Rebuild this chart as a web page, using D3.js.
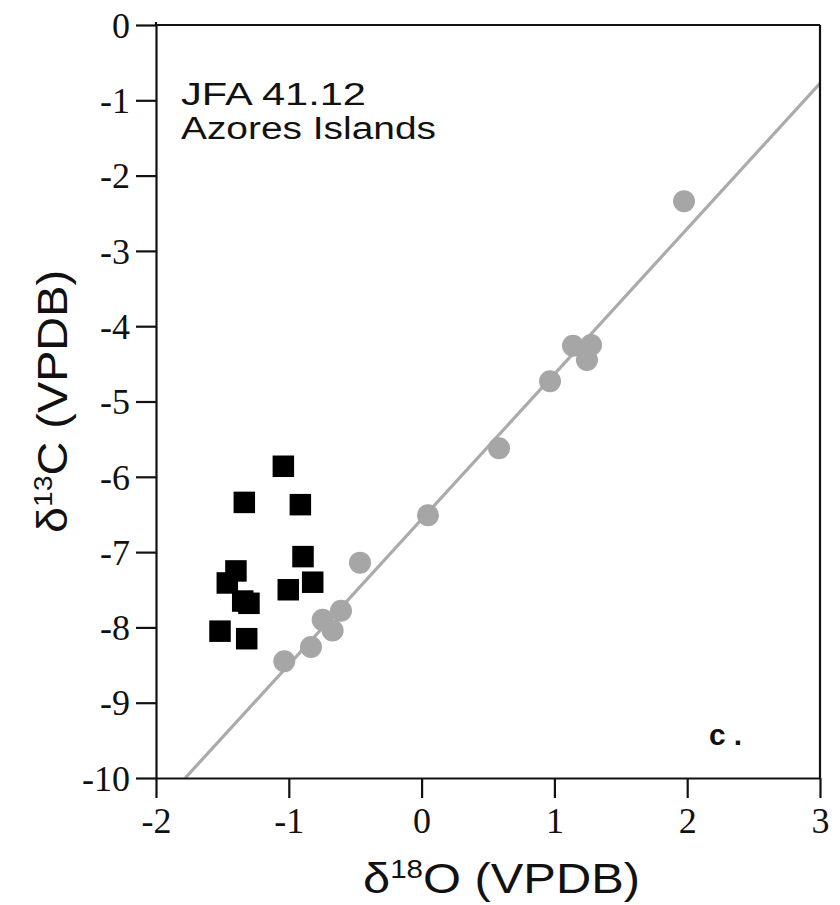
<!DOCTYPE html>
<html>
<head>
<meta charset="utf-8">
<script src="https://cdn.jsdelivr.net/npm/d3@7"></script>
<style>
  html, body { margin: 0; padding: 0; background: #fff; }
  svg { display: block; }
</style>
</head>
<body>
<script>
// δ18O / δ13C isotope measurements, sample JFA 41.12 (Azores Islands)
const circleO = [1.976, 1.14, 1.276, 1.245, 0.967, 0.583, 0.048, -0.464, -0.607, -0.745, -0.67, -0.833, -1.034];
const circleC = [-2.34, -4.26, -4.25, -4.45, -4.73, -5.62, -6.51, -7.14, -7.78, -7.90, -8.04, -8.26, -8.45];

const squareO = [-1.041, -1.335, -0.913, -0.893, -1.398, -0.82, -1.463, -1.004, -1.347, -1.30, -1.518, -1.317];
const squareC = [-5.86, -6.34, -6.37, -7.06, -7.25, -7.40, -7.41, -7.50, -7.65, -7.68, -8.05, -8.15];

// regression line through the gray series
const fitIntercept = -6.565;
const fitSlope = 1.93;

const xTicks = [-2, -1, 0, 1, 2, 3];
const yTicks = [0, -1, -2, -3, -4, -5, -6, -7, -8, -9, -10];

const W = 840, H = 905;
const mLeft = 156, mRight = 820, mTop = 25, mBottom = 778;

const svg = d3.select("body").append("svg").attr("width", W).attr("height", H);

const x = d3.scaleLinear().domain([-2, 3]).range([mLeft, mRight]);
const y = d3.scaleLinear().domain([-10, 0]).range([mBottom, mTop]);

const serif = "'Liberation Serif', 'Times New Roman', serif";
const sans = "'Liberation Sans', Arial, Helvetica, sans-serif";

// fitted line, clipped to the plot box
const x0 = (-10 - fitIntercept) / fitSlope;
const x1 = Math.min(3, (0 - fitIntercept) / fitSlope);
svg.append("line")
  .attr("x1", x(x0)).attr("y1", y(fitIntercept + fitSlope * x0))
  .attr("x2", x(x1)).attr("y2", y(fitIntercept + fitSlope * x1))
  .attr("stroke", "#ababab").attr("stroke-width", 3.2);

// gray circles
svg.append("g").selectAll("circle")
  .data(circleO.map((o, i) => [o, circleC[i]]))
  .join("circle")
  .attr("cx", d => x(d[0])).attr("cy", d => y(d[1]))
  .attr("r", 11)
  .attr("fill", "#a6a6a6");

// black squares
const sq = 21.5;
svg.append("g").selectAll("rect")
  .data(squareO.map((o, i) => [o, squareC[i]]))
  .join("rect")
  .attr("x", d => x(d[0]) - sq / 2).attr("y", d => y(d[1]) - sq / 2)
  .attr("width", sq).attr("height", sq)
  .attr("fill", "#000");

// axes
const gx = svg.append("g").attr("transform", `translate(0,${mBottom})`)
  .call(d3.axisBottom(x).tickValues(xTicks).tickFormat(d3.format("d")).tickSize(20).tickSizeOuter(0).tickPadding(9));
const gy = svg.append("g").attr("transform", `translate(${mLeft},0)`)
  .call(d3.axisLeft(y).tickValues(yTicks).tickFormat(d3.format("d")).tickSize(20).tickSizeOuter(0).tickPadding(6));

[gx, gy].forEach(g => {
  g.select(".domain").attr("stroke", "#111").attr("stroke-width", 2.2);
  g.selectAll(".tick line").attr("stroke", "#111").attr("stroke-width", 2.2);
  g.selectAll(".tick text")
    .attr("fill", "#111")
    .style("font-family", serif)
    .style("font-size", "36px")
    .text(d => d < 0 ? "-" + Math.abs(d) : String(d));
});
gy.selectAll(".tick text").attr("dy", "0.34em");

// frame: top and right edges
svg.append("line").attr("x1", mLeft).attr("x2", mRight).attr("y1", mTop).attr("y2", mTop)
  .attr("stroke", "#111").attr("stroke-width", 2.2);
svg.append("line").attr("x1", mRight).attr("x2", mRight).attr("y1", mTop).attr("y2", mBottom)
  .attr("stroke", "#111").attr("stroke-width", 2.2);
svg.append("line").attr("x1", mLeft).attr("x2", mLeft).attr("y1", mTop - 3).attr("y2", mTop)
  .attr("stroke", "#111").attr("stroke-width", 2.2);

// sample label
const lab = svg.append("g").style("font-family", sans).style("font-size", "31px").attr("fill", "#111");
lab.append("text").attr("x", 181).attr("y", 105)
  .attr("textLength", 185).attr("lengthAdjust", "spacingAndGlyphs").text("JFA 41.12");
lab.append("text").attr("x", 181).attr("y", 139)
  .attr("textLength", 255).attr("lengthAdjust", "spacingAndGlyphs").text("Azores Islands");

// panel letter
svg.append("text").attr("x", 709).attr("y", 745)
  .style("font-family", sans).style("font-size", "30px").style("font-weight", "bold")
  .attr("textLength", 33).attr("lengthAdjust", "spacing")
  .attr("fill", "#111").text("c.");

// axis titles
const xt = svg.append("text").attr("x", 363).attr("y", 893)
  .style("font-family", sans).style("font-size", "43px").attr("fill", "#111")
  .attr("textLength", 277).attr("lengthAdjust", "spacingAndGlyphs");
xt.append("tspan").text("δ");
xt.append("tspan").attr("dy", -15).style("font-size", "26px").text("18");
xt.append("tspan").attr("dy", 15).text("O (VPDB)");

const yt = svg.append("text")
  .attr("transform", `translate(67,533) rotate(-90)`)
  .style("font-family", sans).style("font-size", "43px").attr("fill", "#111")
  .attr("textLength", 263).attr("lengthAdjust", "spacingAndGlyphs");
yt.append("tspan").text("δ");
yt.append("tspan").attr("dy", -15).style("font-size", "26px").text("13");
yt.append("tspan").attr("dy", 15).text("C (VPDB)");
</script>
</body>
</html>
